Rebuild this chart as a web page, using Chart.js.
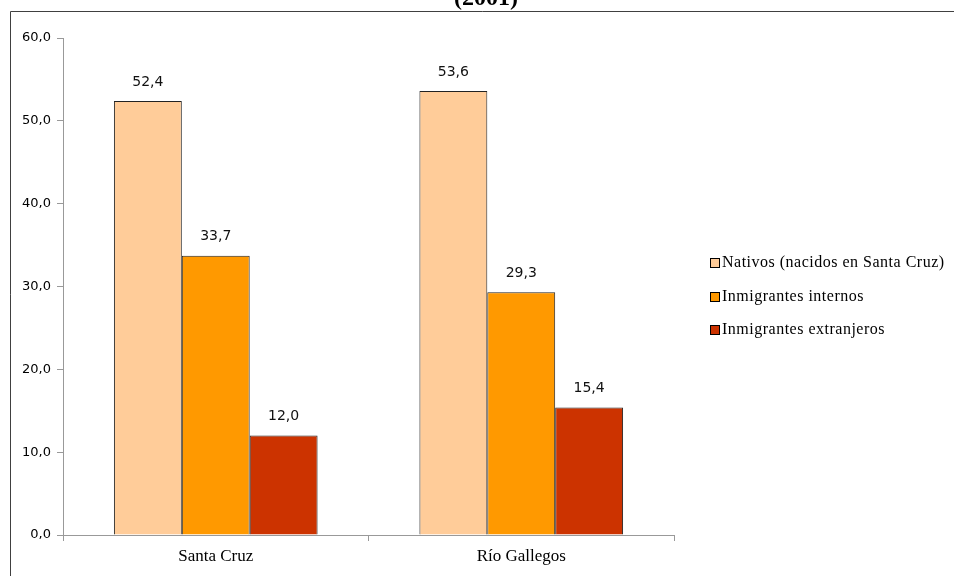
<!DOCTYPE html>
<html>
<head>
<meta charset="utf-8">
<script src="https://cdn.jsdelivr.net/npm/chart.js@4.4.1/dist/chart.umd.min.js"></script>
<style>
  html, body { margin: 0; padding: 0; background: #fff; }
  #wrap { width: 954px; height: 576px; }
</style>
</head>
<body>
<div id="wrap"><canvas id="mycanvas" width="954" height="576"></canvas></div>
<script>
var categories = ["Santa Cruz", "Río Gallegos"];
var seriesNames = ["Nativos (nacidos en Santa Cruz)", "Inmigrantes internos", "Inmigrantes extranjeros"];
var nativos = [52.4, 53.6];
var internos = [33.7, 29.3];
var extranjeros = [12.0, 15.4];
var yTicks = [0, 10, 20, 30, 40, 50, 60];
var titleText = "(2001)";

var colors = ["#FFCC99", "#FF9900", "#CC3300"];

function fmt(v) {
  return v.toFixed(1).replace(".", ",");
}

// frame + cut-off title
var framePlugin = {
  id: "frame",
  afterDraw: function(chart) {
    var ctx = chart.ctx;
    ctx.save();
    ctx.font = "bold 24px 'Liberation Serif'";
    ctx.fillStyle = "#000";
    ctx.textAlign = "center";
    ctx.textBaseline = "alphabetic";
    ctx.fillText(titleText, 486, 5);
    ctx.strokeStyle = "#404040";
    ctx.lineWidth = 1;
    ctx.beginPath();
    ctx.moveTo(960, 11.5);
    ctx.lineTo(10.5, 11.5);
    ctx.lineTo(10.5, 580);
    ctx.stroke();
    ctx.restore();
  }
};

// value labels above bars
var labelPlugin = {
  id: "valueLabels",
  afterDatasetsDraw: function(chart) {
    var ctx = chart.ctx;
    ctx.save();
    ctx.font = "14px 'DejaVu Sans'";
    ctx.fillStyle = "#111";
    ctx.textAlign = "center";
    ctx.textBaseline = "middle";
    chart.data.datasets.forEach(function(ds, i) {
      chart.getDatasetMeta(i).data.forEach(function(bar, j) {
        ctx.fillText(fmt(ds.data[j]), bar.x, bar.y - 19);
      });
    });
    ctx.restore();
  }
};

// legend on the right
var legendPlugin = {
  id: "sideLegend",
  afterDraw: function(chart) {
    var ctx = chart.ctx;
    ctx.save();
    ctx.font = "16px 'Liberation Serif'";
    ctx.letterSpacing = "0.5px";
    ctx.textBaseline = "middle";
    ctx.textAlign = "left";
    chart.data.datasets.forEach(function(ds, i) {
      var y = 263 + i * 33.5;
      ctx.fillStyle = ds.backgroundColor;
      ctx.fillRect(711, Math.round(y) - 4, 8, 8);
      ctx.strokeStyle = "#000";
      ctx.lineWidth = 1;
      ctx.strokeRect(710.5, Math.round(y) - 4.5, 9, 9);
      ctx.fillStyle = "#000";
      ctx.fillText(ds.label, 722, y);
    });
    ctx.restore();
  }
};

var chartdata = {
  labels: categories,
  datasets: [
    { label: seriesNames[0], data: nativos, backgroundColor: colors[0], borderColor: "#222", borderWidth: 1 },
    { label: seriesNames[1], data: internos, backgroundColor: colors[1], borderColor: "#222", borderWidth: 1 },
    { label: seriesNames[2], data: extranjeros, backgroundColor: colors[2], borderColor: "#222", borderWidth: 1 }
  ]
};

var ctx = document.getElementById("mycanvas");

var BarGraph = new Chart(ctx, {
  type: "bar",
  data: chartdata,
  plugins: [framePlugin, labelPlugin, legendPlugin],
  options: {
    responsive: false,
    animation: false,
    layout: { padding: { left: 0, right: 280, top: 38, bottom: 0 } },
    datasets: { bar: { categoryPercentage: 2 / 3, barPercentage: 1 } },
    plugins: { legend: { display: false }, tooltip: { enabled: false }, title: { display: false } },
    scales: {
      x: {
        grid: { display: true, drawOnChartArea: false, drawTicks: true, tickLength: 6, color: "#999", offset: true },
        border: { color: "#999" },
        ticks: { color: "#000", padding: 5, font: { family: "Liberation Serif", size: 17 } },
        afterFit: function(scale) { scale.height = 41; }
      },
      y: {
        min: 0,
        max: 60,
        afterBuildTicks: function(scale) { scale.ticks = yTicks.map(function(v) { return { value: v }; }); },
        grid: { display: true, drawOnChartArea: false, drawTicks: true, tickLength: 6, color: "#999" },
        border: { color: "#999" },
        ticks: { color: "#000", padding: 6, font: { family: "DejaVu Sans", size: 13 }, callback: function(v) { return fmt(v); } },
        afterFit: function(scale) { scale.width = 63; }
      }
    }
  }
});
</script>
</body>
</html>
